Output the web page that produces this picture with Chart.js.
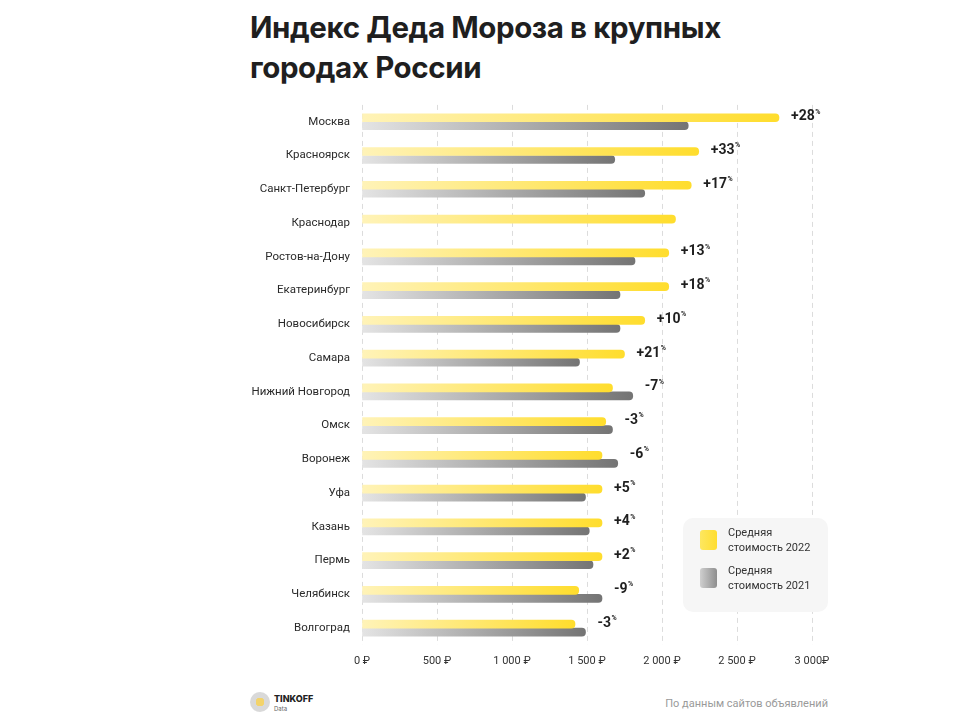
<!DOCTYPE html>
<html>
<head>
<meta charset="utf-8">
<script src="https://cdn.jsdelivr.net/npm/chart.js@4.4.0/dist/chart.umd.min.js"></script>
<style>
  body { margin: 0; background: #fff; width: 960px; height: 719px; position: relative; overflow: hidden; font-family: Inter, "Noto Sans", sans-serif; }
  #title { position: absolute; left: 250px; top: 7px; font-size: 29.5px; line-height: 40px; font-weight: 700; color: #1f1f1f; letter-spacing: -0.4px; }
  #wrap { position: absolute; left: 230px; top: 94px; width: 610px; height: 581px; }
  #logo { position: absolute; left: 250px; top: 692px; width: 20px; height: 20px; border-radius: 50%; background: radial-gradient(circle, #f3d36a 0 30%, #d9d9d9 32% 100%); }
  #brand { position: absolute; left: 274px; top: 694px; font-size: 9px; font-weight: 800; color: #222; line-height: 10px; }
  #brand span { display: block; font-size: 6px; font-weight: 400; color: #666; }
  #source { position: absolute; right: 132px; top: 697px; font-size: 11px; color: #9a9a9a; font-family: Roboto, sans-serif; }
</style>
</head>
<body>
<div id="title">Индекс Деда Мороза в крупных<br>городах России</div>
<div id="wrap"><canvas id="chart"></canvas></div>
<div id="logo"></div>
<div id="brand">TINKOFF<span>Data</span></div>
<div id="source">По данным сайтов объявлений</div>
<script>
const cities = ['Москва', 'Красноярск', 'Санкт-Петербург', 'Краснодар', 'Ростов-на-Дону', 'Екатеринбург',
  'Новосибирск', 'Самара', 'Нижний Новгород', 'Омск', 'Воронеж', 'Уфа', 'Казань', 'Пермь', 'Челябинск', 'Волгоград'];
const cost2022 = [2780, 2245, 2195, 2090, 2045, 2045, 1885, 1750, 1670, 1625, 1600, 1600, 1600, 1600, 1445, 1420];
const cost2021 = [2175, 1685, 1885, null, 1820, 1720, 1720, 1450, 1805, 1670, 1705, 1490, 1515, 1540, 1600, 1490];
const changes = ['+28', '+33', '+17', '', '+13', '+18', '+10', '+21', '-7', '-3', '-6', '+5', '+4', '+2', '-9', '-3'];
const xTickLabels = ['0 ₽', '500 ₽', '1 000 ₽', '1 500 ₽', '2 000 ₽', '2 500 ₽', '3 000₽'];
const seriesNames = [['Средняя', 'стоимость 2022'], ['Средняя', 'стоимость 2021']];

const yellow = ['#fff3b8', '#ffdd2d'];
const grey = ['#e4e4e4', '#747474'];

function barGradient(ctx, colors) {
  const chart = ctx.chart;
  if (!chart.chartArea || ctx.raw == null) return colors[1];
  const x = chart.scales.x;
  const g = chart.ctx.createLinearGradient(x.getPixelForValue(0), 0, x.getPixelForValue(ctx.raw), 0);
  g.addColorStop(0, colors[0]);
  g.addColorStop(1, colors[1]);
  return g;
}

const changeLabels = {
  id: 'changeLabels',
  afterDatasetsDraw(chart) {
    const c = chart.ctx;
    const m0 = chart.getDatasetMeta(0), m1 = chart.getDatasetMeta(1);
    c.save();
    c.fillStyle = '#1f1f1f';
    c.textBaseline = 'middle';
    changes.forEach((t, i) => {
      if (!t) return;
      const b0 = m0.data[i], b1 = m1.data[i];
      let end = b0.x;
      if (cost2021[i] != null) end = Math.max(end, b1.x);
      const x = end + 12, y = b0.y - 1;
      c.font = '700 14px Roboto, sans-serif';
      c.fillText(t, x, y);
      const w = c.measureText(t).width;
      c.font = '700 7px Roboto, sans-serif';
      c.fillText('%', x + w + 0.5, y - 5);
    });
    c.restore();
  }
};

const boxLegend = {
  id: 'boxLegend',
  afterDraw(chart) {
    const c = chart.ctx;
    const bx = 683 - 230, by = 518 - 94;
    c.save();
    c.fillStyle = '#f6f6f6';
    c.beginPath();
    c.roundRect(bx, by, 145, 94, 10);
    c.fill();
    [yellow, grey].forEach((cols, k) => {
      const sy = by + 12 + k * 38;
      const g = c.createLinearGradient(bx + 17, 0, bx + 35, 0);
      g.addColorStop(0, k ? '#cfcfcf' : '#fde760');
      g.addColorStop(1, k ? '#8a8a8a' : cols[1]);
      c.fillStyle = g;
      c.beginPath();
      c.roundRect(bx + 17, sy, 17, 20, 3);
      c.fill();
      c.fillStyle = '#333';
      c.font = '11px Roboto, sans-serif';
      c.textBaseline = 'middle';
      c.fillText(seriesNames[k][0], bx + 45, sy + 3);
      c.fillText(seriesNames[k][1], bx + 45, sy + 18);
    });
    c.restore();
  }
};

new Chart(document.getElementById('chart'), {
  type: 'bar',
  data: {
    labels: cities,
    datasets: [
      { label: 'Средняя стоимость 2022', data: cost2022, backgroundColor: ctx => barGradient(ctx, yellow) },
      { label: 'Средняя стоимость 2021', data: cost2021, backgroundColor: ctx => barGradient(ctx, grey) }
    ]
  },
  options: {
    indexAxis: 'y',
    responsive: true,
    maintainAspectRatio: false,
    animation: false,
    layout: { padding: { top: 0, right: 28, left: 0, bottom: 0 } },
    datasets: { bar: { barThickness: 8, borderRadius: 4 } },
    plugins: { legend: { display: false }, tooltip: { enabled: false } },
    scales: {
      x: {
        min: 0, max: 3000,
        border: { display: false, dash: [5, 4] },
        grid: { color: '#dcdcdc', lineWidth: 1, tickLength: 0 },
        ticks: {
          stepSize: 500, padding: 10, color: '#333',
          font: { family: 'Roboto', size: 11 },
          callback: (v, i) => xTickLabels[i]
        },
        afterFit: s => { s.height = 30; }
      },
      y: {
        border: { display: false },
        grid: { display: false },
        ticks: { color: '#2a2a2a', padding: 4, font: { family: 'Roboto', size: 11.5 } },
        afterFit: s => { s.width = 132; }
      }
    }
  },
  plugins: [changeLabels, boxLegend]
});
</script>
</body>
</html>
